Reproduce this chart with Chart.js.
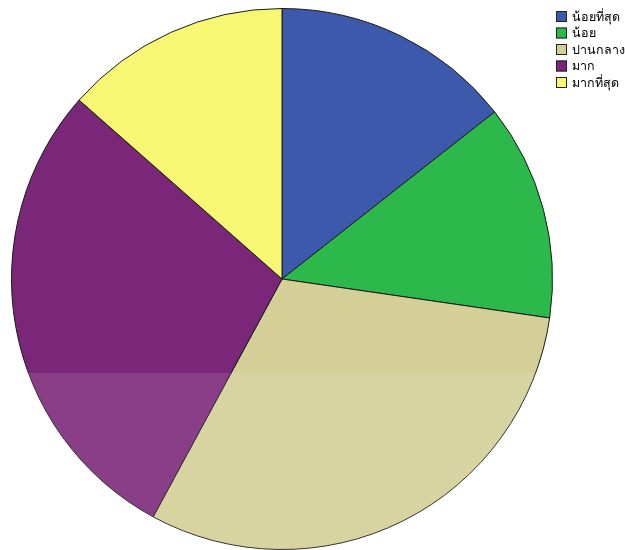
<!DOCTYPE html>
<html>
<head>
<meta charset="utf-8">
<script src="https://cdn.jsdelivr.net/npm/chart.js@4"></script>
<style>
  html, body { margin: 0; padding: 0; background: #fff; }
  #wrap { position: relative; width: 625px; height: 550px; }
</style>
</head>
<body>
<div id="wrap"><canvas id="myChart" width="625" height="550"></canvas></div>
<script>
const labels = ['น้อยที่สุด', 'น้อย', 'ปานกลาง', 'มาก', 'มากที่สุด'];
const percents = [14.4, 12.9, 30.6, 28.6, 13.5];
const colors = ['#3d59ab', '#2db84b', '#d4cf97', '#7b2779', '#f8f774'];

// small legend in the top right corner, drawn straight onto the canvas
const boxLegend = {
    id: 'boxLegend',
    afterDraw(chart) {
        const ctx = chart.ctx;
        ctx.save();
        // light band across the lower part
        ctx.fillStyle = 'rgba(255,255,255,0.11)';
        ctx.fillRect(0, 373, chart.width, chart.height - 373);

        ctx.font = '12.5px "Noto Sans", "DejaVu Sans", sans-serif';
        ctx.textBaseline = 'middle';
        labels.forEach((l, i) => {
            const y = 11 + i * 16.5;
            ctx.fillStyle = colors[i];
            ctx.fillRect(556, y, 11, 11);
            ctx.strokeStyle = '#222';
            ctx.lineWidth = 1;
            ctx.strokeRect(556.5, y + 0.5, 10, 10);
            ctx.fillStyle = '#000';
            ctx.fillText(l, 572, y + 6);
        });
        ctx.restore();
    }
};

new Chart(document.getElementById('myChart'), {
    type: 'pie',
    data: {
        labels: labels,
        datasets: [{
            data: percents,
            backgroundColor: colors,
            borderColor: '#1a1a1a',
            borderWidth: 1
        }]
    },
    options: {
        responsive: false,
        animation: false,
        layout: { padding: { left: 11, top: 8, right: 72, bottom: 0 } },
        plugins: {
            legend: { display: false },
            tooltip: { enabled: false }
        }
    },
    plugins: [boxLegend]
});
</script>
</body>
</html>
